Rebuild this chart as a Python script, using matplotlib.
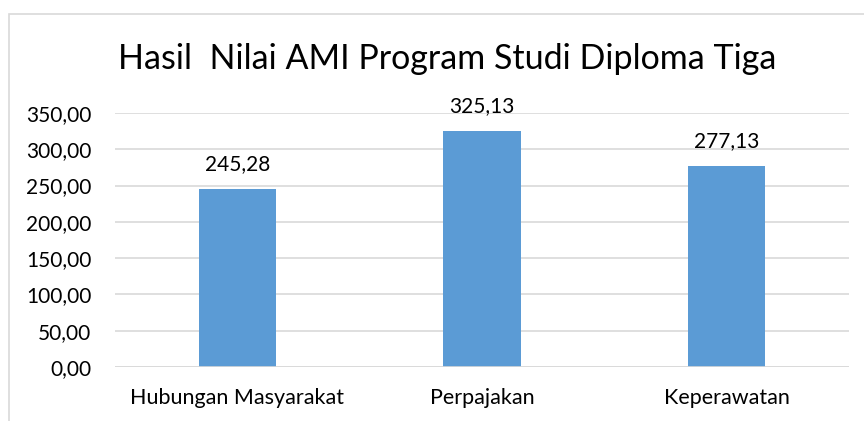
import matplotlib
matplotlib.use("Agg")
import matplotlib.pyplot as plt
from matplotlib.patches import Rectangle

categories = ["Hubungan Masyarakat", "Perpajakan", "Keperawatan"]
values = [245.28, 325.13, 277.13]
yticks = [0, 50, 100, 150, 200, 250, 300, 350]
title = "Hasil  Nilai AMI Program Studi Diploma Tiga"

plt.rcParams['font.family'] = ['Lato', 'DejaVu Sans']

W, H = 864, 421
fig = plt.figure(figsize=(W / 100, H / 100), dpi=100)
fig.patch.set_facecolor('white')

# chart frame (partially off image)
fig.add_artist(Rectangle((9 / W, -0.1), 1.2, 1 - 14 / H + 0.1, transform=fig.transFigure,
                         fill=False, edgecolor='#D9D9D9', linewidth=1.2))

left, right = 115 / W, 849 / W
bottom, top = 1 - 367 / H, 1 - 113 / H
ax = fig.add_axes([left, bottom, right - left, top - bottom])
x = list(range(len(categories)))
bars = ax.bar(x, values, width=0.315, color='#5B9BD5', zorder=3)
ax.set_xlim(-0.5, len(categories) - 0.5)
ax.set_ylim(0, 350)
ax.set_yticks(yticks)
ax.set_yticklabels([f"{v:.2f}".replace('.', ',') for v in yticks], fontsize=15)
ax.set_xticks(x)
ax.set_xticklabels(categories, fontsize=15.5)
ax.tick_params(axis='both', length=0)
ax.tick_params(axis='y', pad=17)
ax.tick_params(axis='x', pad=15)
ax.grid(axis='y', color='#D9D9D9', linewidth=1.2, zorder=0)
for s in ax.spines.values():
    s.set_visible(False)
ax.axhline(0, color='#D9D9D9', linewidth=1.2, zorder=4)

for xi, v in zip(x, values):
    ax.annotate(f"{v:.2f}".replace('.', ','), (xi, v), xytext=(0, 11), textcoords='offset points',
                ha='center', va='bottom', fontsize=15)

fig.text(0.5 * (120 + 775) / W, 1 - 59 / H, title, ha='center', va='center', fontsize=24.5)

fig.savefig("out.png", dpi=100)
